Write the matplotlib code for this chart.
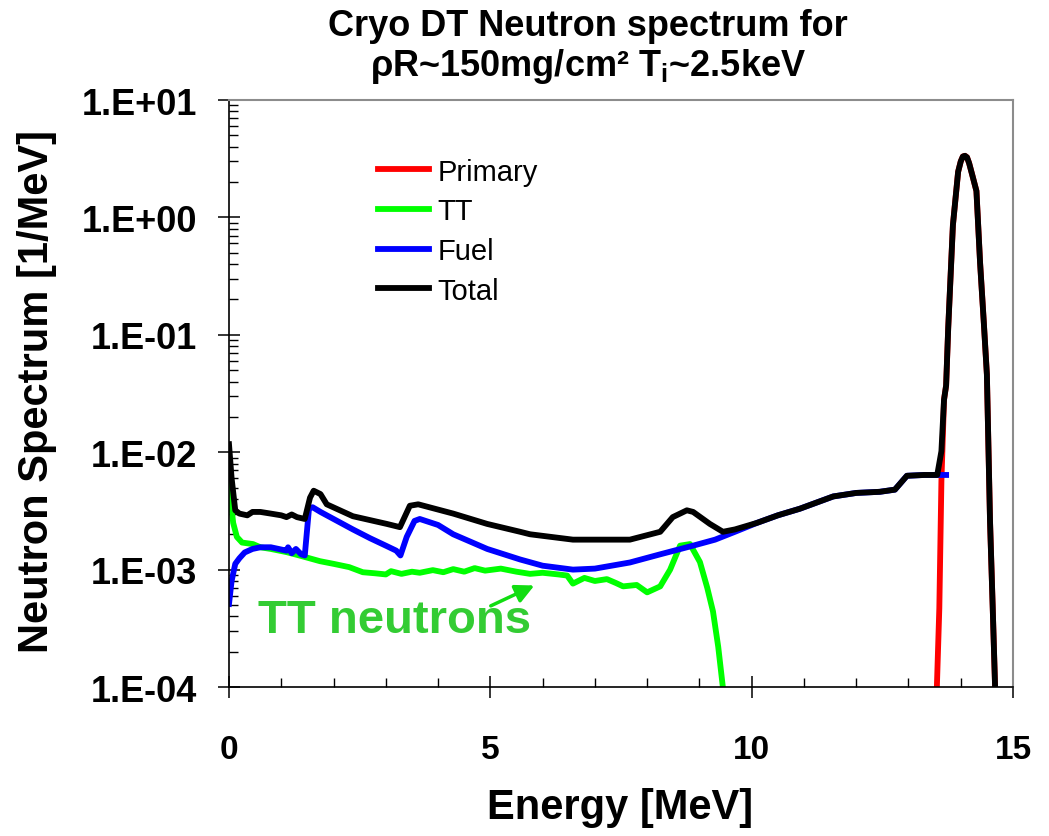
import numpy as np
import matplotlib
matplotlib.use('Agg')
import matplotlib.pyplot as plt
from matplotlib.ticker import MultipleLocator, LogLocator, FuncFormatter, NullFormatter

plt.rcParams['font.family'] = ['Liberation Sans', 'DejaVu Sans']
plt.rcParams['mathtext.fontset'] = 'custom'
plt.rcParams['mathtext.rm'] = 'Liberation Sans:bold'
plt.rcParams['mathtext.bf'] = 'Liberation Sans:bold'
plt.rcParams['mathtext.it'] = 'Liberation Sans:bold'

# Primary (DT) peak
primary_e = [13.54, 13.59, 13.63, 13.68, 13.72, 13.76, 13.85, 13.95, 14.0, 14.04, 14.08,
             14.12, 14.16, 14.22, 14.30, 14.37, 14.44, 14.50, 14.56, 14.61, 14.66]
primary_v = [9e-5, 0.00047, 0.0057, 0.028, 0.037, 0.114, 0.86, 2.45, 3.0, 3.3, 3.35,
             3.25, 2.9, 2.3, 1.68, 0.41, 0.13, 0.046, 0.0026, 0.0005, 9e-5]

# TT neutrons
tt_e = [0.0, 0.03, 0.08, 0.15, 0.25, 0.46, 0.6, 0.8, 1.1, 1.4, 1.74, 2.0, 2.3, 2.56,
        2.8, 3.0, 3.1, 3.3, 3.5, 3.65, 3.9, 4.1, 4.29, 4.5, 4.7, 4.9, 5.2, 5.5,
        5.76, 6.0, 6.3, 6.47, 6.58, 6.8, 7.0, 7.23, 7.4, 7.54, 7.8, 8.0, 8.25,
        8.44, 8.63, 8.82, 9.01, 9.15, 9.26, 9.36, 9.46]
tt_v = [0.0070, 0.0040, 0.0025, 0.0019, 0.0017, 0.00165, 0.00155, 0.0015, 0.00141,
        0.0013, 0.00118, 0.00112, 0.00105, 0.00095, 0.00093, 0.00091, 0.00097,
        0.00092, 0.00096, 0.00094, 0.00099, 0.00095, 0.00101, 0.00096, 0.00103,
        0.00098, 0.00102, 0.00096, 0.00092, 0.00094, 0.00091, 0.00089, 0.00076,
        0.00085, 0.00080, 0.00083, 0.00077, 0.00072, 0.00074, 0.00064, 0.00072,
        0.0010, 0.0016, 0.00165, 0.00116, 0.0007, 0.00044, 0.00022, 9e-5]

# Fuel (scattered) neutrons
fuel_e = [0.0, 0.05, 0.12, 0.2, 0.3, 0.45, 0.6, 0.8, 0.95, 1.1, 1.13, 1.2, 1.28,
          1.38, 1.45, 1.53, 1.6, 1.75, 2.0, 2.37, 2.7, 3.0, 3.2, 3.28, 3.4, 3.55,
          3.65, 4.0, 4.29, 4.94, 5.57, 6.0, 6.58, 7.0, 7.67, 8.25, 8.88, 9.3,
          9.68, 10.1, 10.5, 10.92, 11.56, 12.0, 12.45, 12.74, 12.97, 13.3, 13.55,
          13.72]
fuel_v = [0.00051, 0.0008, 0.00112, 0.00125, 0.0014, 0.0015, 0.00155, 0.00155,
          0.0015, 0.00145, 0.00155, 0.00138, 0.0015, 0.00135, 0.00132, 0.0033,
          0.0034, 0.0031, 0.0027, 0.0022, 0.00185, 0.0016, 0.00145, 0.00132,
          0.0019, 0.0026, 0.0027, 0.0024, 0.0020, 0.0015, 0.00122, 0.00108,
          0.0010, 0.00102, 0.00115, 0.00135, 0.0016, 0.0018, 0.0021, 0.0025,
          0.0029, 0.0033, 0.0042, 0.0045, 0.0046, 0.0048, 0.0063, 0.0064,
          0.0064, 0.0064]

# Total
total_e = [0.0, 0.05, 0.12, 0.2, 0.35, 0.45, 0.6, 0.8, 1.0, 1.1, 1.2, 1.3, 1.45,
           1.55, 1.62, 1.75, 1.87, 2.37, 3.02, 3.27, 3.46, 3.62, 4.29, 4.94, 5.57,
           5.76, 6.58, 7.67, 8.25, 8.49, 8.76, 8.88, 9.2, 9.45, 9.68, 10.1, 10.5,
           10.92, 11.56, 12.0, 12.45, 12.74, 12.97, 13.3, 13.55, 13.63, 13.68,
           13.72, 13.76, 13.85, 13.95, 14.0, 14.04, 14.08, 14.12, 14.16, 14.22,
           14.30, 14.37, 14.44, 14.50, 14.56, 14.61, 14.66]
total_v = [0.0117, 0.006, 0.0032, 0.0030, 0.0029, 0.0031, 0.0031, 0.0030, 0.0029,
           0.0028, 0.00295, 0.0028, 0.0027, 0.0041, 0.0047, 0.0044, 0.0036,
           0.00285, 0.00245, 0.0023, 0.0035, 0.0036, 0.0030, 0.00245, 0.0021,
           0.0020, 0.0018, 0.0018, 0.0021, 0.0028, 0.0032, 0.0031, 0.00245,
           0.0021, 0.0022, 0.0025, 0.0029, 0.0033, 0.0042, 0.0045, 0.0046,
           0.0048, 0.0063, 0.0064, 0.0064, 0.0102, 0.028, 0.037, 0.114, 0.86,
           2.45, 3.0, 3.3, 3.35, 3.25, 2.9, 2.3, 1.68, 0.41, 0.13, 0.046, 0.0026,
           0.0005, 9e-5]

fig = plt.figure(figsize=(10.49, 8.37), dpi=100)
ax = fig.add_axes([0.2183, 0.178, 0.7474, 0.7013])

lw = 4.2
ax.plot(primary_e, primary_v, color='#ff0000', lw=lw, label='Primary', solid_joinstyle='round')
ax.plot(tt_e, tt_v, color='#00ff00', lw=lw, label='TT', solid_joinstyle='round')
ax.plot(fuel_e, fuel_v, color='#0000ff', lw=lw, label='Fuel', solid_joinstyle='round')
ax.plot(total_e, total_v, color='black', lw=lw, label='Total', solid_joinstyle='round')

ax.set_yscale('log')
ax.set_xlim(0, 15)
ax.set_ylim(1e-4, 10)

ax.xaxis.set_major_locator(MultipleLocator(5))
ax.xaxis.set_minor_locator(MultipleLocator(1))
ax.yaxis.set_major_locator(LogLocator(base=10, numticks=10))
ax.yaxis.set_minor_locator(LogLocator(base=10, subs=np.arange(2, 10), numticks=10))
ax.yaxis.set_minor_formatter(NullFormatter())
ax.yaxis.set_major_formatter(FuncFormatter(lambda v, p: '1.E%+03d' % int(round(np.log10(v)))))

ax.tick_params(which='major', direction='inout', length=16, width=1.1, labelsize=24)
ax.tick_params(which='minor', direction='in', length=6.5, width=1.0)
ax.tick_params(axis='x', which='major', pad=26)
ax.tick_params(axis='y', which='major', pad=15, labelsize=26)
for lab in ax.get_xticklabels() + ax.get_yticklabels():
    lab.set_fontweight('bold')

for s in ['left', 'bottom']:
    ax.spines[s].set_color('black')
    ax.spines[s].set_linewidth(1.2)
for s in ['top', 'right']:
    ax.spines[s].set_color('#8c8c8c')
    ax.spines[s].set_linewidth(1.5)

ax.legend(loc='upper left', bbox_to_anchor=(0.19, 0.902), frameon=False,
          fontsize=21, handlelength=1.75, handletextpad=0.3, labelspacing=0.4,
          borderpad=0, borderaxespad=0)

ax.text(0.55, 0.00037, 'TT neutrons', color='#33cc33', fontsize=34,
        fontweight='bold', ha='left', va='center')
ax.annotate('', xy=(5.89, 0.00075), xytext=(4.96, 0.00048),
            arrowprops=dict(arrowstyle='-|>', color='#11dd11', lw=2.5,
                            mutation_scale=28))

fig.text(0.5605, 0.968, 'Cryo DT Neutron spectrum for', ha='center', va='center',
         fontsize=26, fontweight='bold')
fig.text(0.5605, 0.921, 'ρR~150mg/cm² T$_{i}$~2.5keV', ha='center', va='center',
         fontsize=26, fontweight='bold')
fig.text(0.591, 0.035, 'Energy [MeV]', ha='center', va='center',
         fontsize=30, fontweight='bold')
fig.text(0.035, 0.532, 'Neutron Spectrum [1/MeV]', ha='center', va='center',
         rotation=90, fontsize=30, fontweight='bold')

fig.savefig('out.png', dpi=100)
